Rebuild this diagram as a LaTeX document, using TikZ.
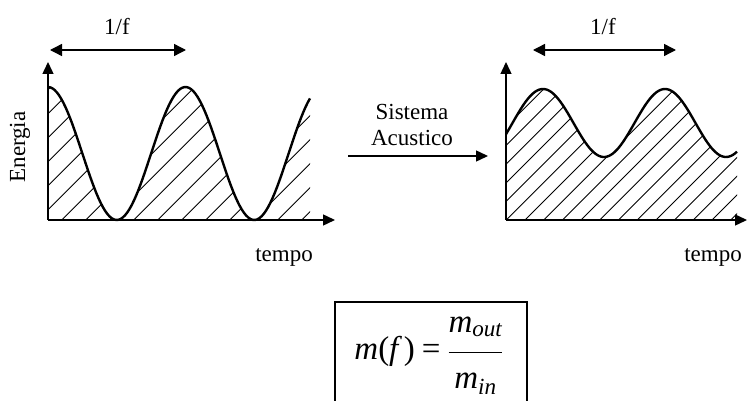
\documentclass[tikz,border=0pt]{standalone}
\usepackage{fontspec}
\usepackage{amsmath}
\setmainfont{Liberation Serif}
\usetikzlibrary{arrows.meta}
\begin{document}
\begin{tikzpicture}[x=1pt,y=-1pt,
  txt/.style={font=\fontsize{23}{26}\selectfont, inner sep=0pt},
  axis/.style={line width=1.4pt, -{Triangle[length=12pt,width=11pt]}},
  dimarrow/.style={line width=1.4pt, {Triangle[length=12pt,width=12pt]}-{Triangle[length=12pt,width=12pt]}},
  wave/.style={line width=2.4pt, line join=round},
  hatch/.style={line width=0.9pt},
  framebox/.style={line width=1.3pt}]
\useasboundingbox (0,0) rectangle (748,401);
% ---------- left plot ----------
\coordinate (LO) at (48,220);
\coordinate (LY) at (48,62);
\coordinate (LX) at (335,220);
\begin{scope}
  \clip (48,220) -- plot[domain=48:310, samples=120] (\x, {153.5-66.5*cos(2.61818*(\x-48))}) -- (310,220) -- cycle;
  \foreach \k in {-7,...,12} {
    \draw[hatch] ({281.7+24*\k-220},220) -- ++(200,-200);
  }
\end{scope}
\draw[wave] plot[domain=48:310, samples=120] (\x, {153.5-66.5*cos(2.61818*(\x-48))});
\draw[axis] (LO) -- (LY);
\draw[axis] (LO) -- (LX);
\coordinate (LA1) at (50,50);
\coordinate (LA2) at (186,50);
\draw[dimarrow] (LA1) -- (LA2);
\node[txt] (lf1) at (117,27) {1/f};
\node[txt, rotate=90] (energia) at (20,147) {Energia};
\node[txt] (tempo1) at (284,257) {tempo};
% ---------- system arrow ----------
\node[txt, align=center] (sys) at (412,125) {Sistema\\[0pt]Acustico};
\coordinate (SA1) at (348,156);
\coordinate (SA2) at (488,156);
\draw[axis] (SA1) -- (SA2);
% ---------- right plot ----------
\coordinate (RO) at (506,220);
\coordinate (RY) at (506,62);
\coordinate (RX) at (747,220);
\begin{scope}
  \clip (506,220) -- plot[domain=506:737, samples=120] (\x, {123-34*cos(2.95082*(\x-543))}) -- (737,220) -- cycle;
  \foreach \k in {-10,...,14} {
    \draw[hatch] ({745+18.7*\k-220},220) -- ++(200,-200);
  }
\end{scope}
\draw[wave] plot[domain=506:737, samples=120] (\x, {123-34*cos(2.95082*(\x-543))});
\draw[axis] (RO) -- (RY);
\draw[axis] (RO) -- (RX);
\coordinate (RA1) at (533,50);
\coordinate (RA2) at (676,50);
\draw[dimarrow] (RA1) -- (RA2);
\node[txt] (lf2) at (603,27) {1/f};
\node[txt] (tempo2) at (713,257) {tempo};
% ---------- formula box ----------
\coordinate (B1) at (335,402);
\coordinate (B2) at (335,302);
\coordinate (B3) at (527,302);
\coordinate (B4) at (527,402);
\draw[framebox] (B1) -- (B2) -- (B3) -- (B4);
\node[inner sep=0pt, anchor=base, font=\fontsize{33}{38}\selectfont] (formula) at (429,359)
  {$\textit{m}\textup{(}\textit{f\,}\textup{)} \mathrel{\textup{=}} \dfrac{\textit{m}_{\textit{out}}\rule[-17pt]{0pt}{0pt}}{\rule{0pt}{32pt}\textit{m}_{\textit{in}}}$};
\end{tikzpicture}
\end{document}
